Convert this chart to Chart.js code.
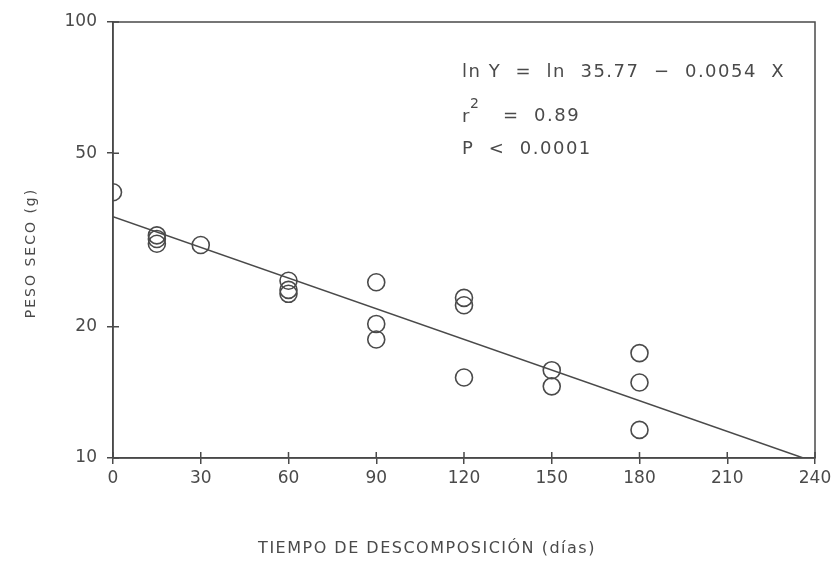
<!DOCTYPE html>
<html>
<head>
<meta charset="utf-8">
<script src="https://cdn.jsdelivr.net/npm/chart.js@4/dist/chart.umd.min.js"></script>
<style>
  html, body { margin: 0; padding: 0; background: #fff; }
  #wrap { width: 838px; height: 568px; }
</style>
</head>
<body>
<div id="wrap"><canvas id="chart"></canvas></div>
<script>
// observed dry weight (g) vs decomposition time (days)
const days = [0, 15, 15, 15, 30, 60, 60, 60, 90, 90, 90, 120, 120, 120, 150, 150, 180, 180, 180];
const dryWeight = [40.7, 32.4, 31.8, 31.0, 30.8, 25.5, 24.3, 23.8, 25.3, 20.3, 18.7, 23.3, 22.4, 15.3, 15.9, 14.6, 17.4, 14.9, 11.6];

// regression ln Y = ln 35.77 - 0.0054 X, end points
const fitDays = [0, 236];
const fitWeight = [35.77, 10.0];

const xTicks = [0, 30, 60, 90, 120, 150, 180, 210, 240];
const yTicks = [10, 20, 50, 100];

const ink = "#4a4a4a";
const font = "'DejaVu Sans', sans-serif";

// frame, inner tick marks, axis titles and equation text
const framePlugin = {
  id: "frame",
  afterDraw(chart) {
    const { ctx, chartArea: a, scales } = chart;
    ctx.save();
    ctx.strokeStyle = ink;
    ctx.lineWidth = 1.5;
    ctx.strokeRect(a.left, a.top, a.right - a.left, a.bottom - a.top);
    ctx.beginPath();
    xTicks.forEach(v => {
      const x = scales.x.getPixelForValue(v);
      ctx.moveTo(x, a.bottom);
      ctx.lineTo(x, a.bottom - 6);
    });
    yTicks.forEach(v => {
      const y = scales.y.getPixelForValue(v);
      ctx.moveTo(a.left, y);
      ctx.lineTo(a.left + 6, y);
    });
    ctx.stroke();

    ctx.fillStyle = ink;
    ctx.textBaseline = "middle";

    // axis titles
    ctx.font = "16px " + font;
    ctx.letterSpacing = "1.5px";
    ctx.textAlign = "center";
    ctx.fillText("TIEMPO DE DESCOMPOSICIÓN (días)", 427, 549);
    ctx.save();
    ctx.translate(31, 253);
    ctx.rotate(-Math.PI / 2);
    ctx.font = "14px " + font;
    ctx.letterSpacing = "2px";
    ctx.fillText("PESO SECO (g)", 0, 0);
    ctx.restore();

    // equation
    ctx.textAlign = "left";
    ctx.font = "18px " + font;
    ctx.letterSpacing = "1.5px";
    ctx.fillText("ln Y  =  ln  35.77  \u2212  0.0054  X", 462, 72);
    ctx.fillText("r", 462, 117);
    ctx.font = "14px " + font;
    ctx.fillText("2", 470, 104);
    ctx.font = "18px " + font;
    ctx.fillText("=  0.89", 503, 116);
    ctx.fillText("P  <  0.0001", 462, 149);
    ctx.restore();
  }
};

new Chart(document.getElementById("chart"), {
  type: "scatter",
  data: {
    datasets: [
      {
        label: "Peso seco",
        data: days.map((d, i) => ({ x: d, y: dryWeight[i] })),
        pointStyle: "circle",
        pointRadius: 8.5,
        pointHoverRadius: 8.5,
        pointBackgroundColor: "rgba(0,0,0,0)",
        pointBorderColor: ink,
        pointBorderWidth: 1.6,
        showLine: false
      },
      {
        label: "Regresion",
        type: "line",
        data: fitDays.map((d, i) => ({ x: d, y: fitWeight[i] })),
        borderColor: ink,
        borderWidth: 1.5,
        pointRadius: 0,
        fill: false
      }
    ]
  },
  options: {
    responsive: true,
    maintainAspectRatio: false,
    animation: false,
    layout: { padding: { top: 22, right: 23, left: 0, bottom: 0 } },
    plugins: {
      legend: { display: false },
      tooltip: { enabled: false }
    },
    scales: {
      x: {
        type: "linear",
        min: 0,
        max: 240,
        afterBuildTicks: s => { s.ticks = xTicks.map(v => ({ value: v })); },
        afterFit: s => { s.height = 110; },
        grid: { drawOnChartArea: false, tickLength: 6, color: ink, lineWidth: 1.5 },
        border: { color: ink, width: 1.5 },
        ticks: { color: ink, font: { family: font, size: 17 }, padding: 4, maxRotation: 0 }
      },
      y: {
        type: "logarithmic",
        min: 10,
        max: 100,
        afterBuildTicks: s => { s.ticks = yTicks.map(v => ({ value: v })); },
        afterFit: s => { s.width = 113; },
        grid: { drawOnChartArea: false, tickLength: 6, color: ink, lineWidth: 1.5 },
        border: { color: ink, width: 1.5 },
        ticks: { color: ink, font: { family: font, size: 17 }, padding: 10, callback: v => String(v) }
      }
    }
  },
  plugins: [framePlugin]
});
</script>
</body>
</html>
